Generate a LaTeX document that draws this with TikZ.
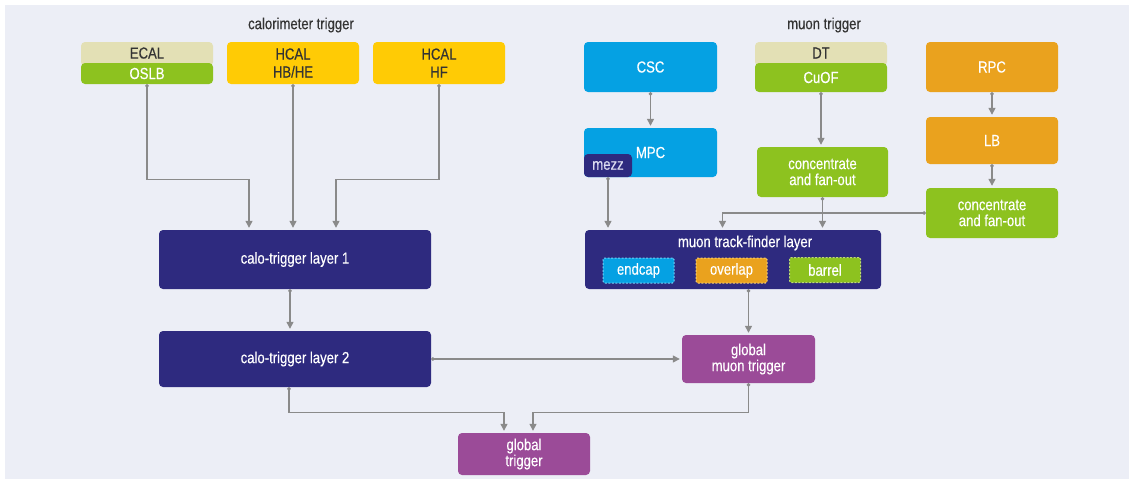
\documentclass[tikz,border=0pt]{standalone}
\usepackage{fontspec}
\setmainfont{Liberation Sans}[FakeStretch=0.82,FakeBold=0.35]
\usetikzlibrary{arrows.meta,calc}
\definecolor{bgc}{HTML}{ECEEF6}
\definecolor{tanc}{HTML}{E3E0B5}
\definecolor{greenc}{HTML}{8DC21F}
\definecolor{greenl}{HTML}{BFDD74}
\definecolor{yellowc}{HTML}{FFCB05}
\definecolor{cyanc}{HTML}{05A1E3}
\definecolor{cyanl}{HTML}{74D0F6}
\definecolor{orangec}{HTML}{EAA21E}
\definecolor{orangel}{HTML}{F7CF72}
\definecolor{navyc}{HTML}{2E2A7F}
\definecolor{purplec}{HTML}{9B4B98}
\definecolor{linec}{HTML}{8A8A8A}
\definecolor{darktxt}{HTML}{333333}
\definecolor{mezztxt}{HTML}{DCDCF0}
\tikzset{
  box/.style={rounded corners=4pt, inner sep=0pt, align=center, text=white,
    font=\fontsize{16}{16}\selectfont},
  conn/.style={draw=linec, line width=1.3pt,
    {Circle[length=3.4pt,fill=linec]}-{Triangle[width=7pt,length=7pt]},
    shorten >=2pt},
  dashbox/.style={box, rounded corners=1.5pt, draw, line width=1pt,
    dash pattern=on 2pt off 1.5pt, minimum width=71pt, minimum height=25pt},
  title/.style={inner sep=0pt, text=darktxt, font=\fontsize{16}{16}\selectfont},
}
\begin{document}
\begin{tikzpicture}[x=1pt,y=-1pt]
\useasboundingbox (0,0) rectangle (1129,479);
\fill[bgc] (5,5) rectangle (1129,479);

% titles
\node[title] (caltitle) at (301,25) {calorimeter trigger};
\node[title] (mutitle) at (824,25) {muon trigger};

% calorimeter sources
\node[box, fill=tanc, text=darktxt, minimum width=132pt, minimum height=24pt] (ecal) at (147,54) {\raisebox{2pt}{ECAL}};
\node[box, fill=greenc, minimum width=132pt, minimum height=21pt] (oslb) at (147,73.5) {OSLB};
\node[box, fill=yellowc, text=darktxt, minimum width=132pt, minimum height=42pt,
  font=\fontsize{16}{18}\selectfont] (hbhe) at (293,63) {HCAL\\HB/HE};
\node[box, fill=yellowc, text=darktxt, minimum width=132pt, minimum height=42pt,
  font=\fontsize{16}{18}\selectfont] (hf) at (439,63) {HCAL\\HF};

% calo layers
\node[box, fill=navyc, minimum width=272pt, minimum height=59pt] (l1) at (295,259.5) {calo-trigger layer 1};
\node[box, fill=navyc, minimum width=272pt, minimum height=56pt] (l2) at (295,359) {calo-trigger layer 2};
\node[box, fill=purplec, minimum width=132pt, minimum height=42pt] (gt) at (524,454) {global\\trigger};

% muon sources
\node[box, fill=cyanc, minimum width=133pt, minimum height=50pt] (csc) at (650.5,67) {CSC};
\node[box, fill=cyanc, minimum width=133pt, minimum height=49pt] (mpc) at (650.5,152.5) {MPC};
\node[box, fill=navyc, text=mezztxt, minimum width=48pt, minimum height=23pt] (mezz) at (608,165.5) {mezz};
\node[box, fill=tanc, text=darktxt, minimum width=132pt, minimum height=24pt] (dt) at (821,54) {\raisebox{2pt}{DT}};
\node[box, fill=greenc, minimum width=132pt, minimum height=29pt] (cuof) at (821,77.5) {CuOF};
\node[box, fill=greenc, minimum width=131pt, minimum height=50pt] (dtc) at (822.5,172) {concentrate\\and fan-out};
\node[box, fill=orangec, minimum width=132pt, minimum height=50pt] (rpc) at (992,67) {RPC};
\node[box, fill=orangec, minimum width=132pt, minimum height=47pt] (lb) at (992,140.5) {LB};
\node[box, fill=greenc, minimum width=132pt, minimum height=50pt] (rpcc) at (992,213) {concentrate\\and fan-out};

% muon track finder
\node[box, fill=navyc, minimum width=296pt, minimum height=59pt] (tf) at (733,259.5) {};
\node[box] (tftitle) at (745,243) {muon track-finder layer};
\node[dashbox, fill=cyanc, draw=cyanl] (endcap) at (638.5,270.5) {endcap};
\node[dashbox, fill=orangec, draw=orangel] (overlap) at (731.5,270.5) {overlap};
\node[dashbox, fill=greenc, draw=greenl] (barrel) at (825,270) {barrel};

\node[box, fill=purplec, minimum width=133pt, minimum height=48pt] (gmt) at (748.5,359) {global\\muon trigger};

% connectors: calorimeter
\coordinate (l1a) at ($(l1.north)+(-46,0)$);
\coordinate (l1c) at ($(l1.north)+(41,0)$);
\draw[conn] (oslb.south) |- ($(l1a)+(0,-50)$) -- (l1a);
\draw[conn] (hbhe.south) -- (hbhe.south |- l1.north);
\draw[conn] (hf.south) |- ($(l1c)+(0,-50)$) -- (l1c);
\draw[conn] ([xshift=-5pt]l1.south) -- ([xshift=-5pt]l2.north);
\draw[conn] (l2.east) -- (gmt.west);
\coordinate (gta) at ($(gt.north)+(-20,0)$);
\coordinate (gtb) at ($(gt.north)+(9,0)$);
\draw[conn] ([xshift=-6pt]l2.south) |- ($(gta)+(0,-20)$) -- (gta);
\draw[conn] (gmt.south) |- ($(gtb)+(0,-20)$) -- (gtb);

% connectors: muon
\draw[conn] (csc.south) -- (mpc.north);
\draw[conn] (cuof.south) -- (cuof.south |- dtc.north);
\draw[conn] (rpc.south) -- (lb.north);
\draw[conn] (lb.south) -- (rpcc.north);
\draw[conn] (mezz.south) -- (mezz.south |- tf.north);
\draw[conn] (dtc.south) -- (dtc.south |- tf.north);
\coordinate (tfa) at ($(tf.north)+(-10.5,0)$);
\draw[conn] (rpcc.west) -| (tfa);
\draw[conn] (tf.south -| gmt.north) -- (gmt.north);
\end{tikzpicture}
\end{document}
